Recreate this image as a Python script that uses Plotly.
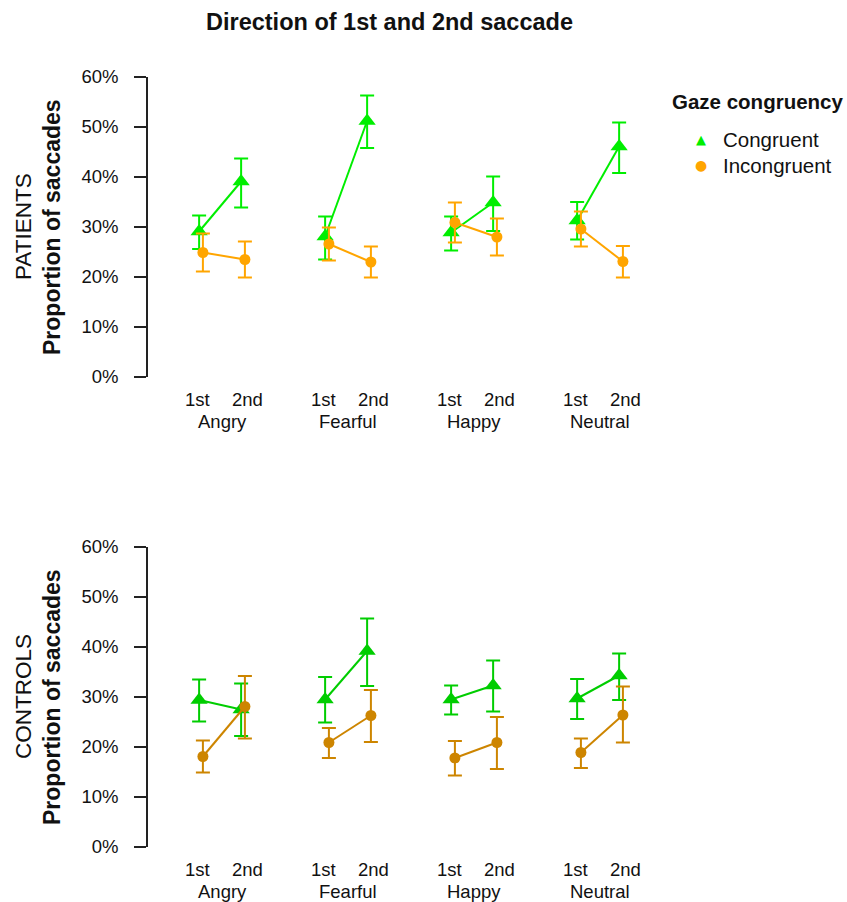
import plotly.graph_objects as go

# ---------------- data (percent) ----------------
emotions = ["Angry", "Fearful", "Happy", "Neutral"]
saccades = ["1st", "2nd"]

patients_cong = [29.1, 39.1, 28.1, 51.2, 28.9, 34.9, 31.3, 46.1]
patients_cong_lo = [25.6, 33.9, 23.5, 45.8, 25.3, 29.2, 27.5, 40.8]
patients_cong_hi = [32.3, 43.7, 32.1, 56.3, 32.1, 40.1, 35.0, 50.9]
patients_incong = [24.9, 23.5, 26.6, 23.0, 30.9, 28.0, 29.6, 23.1]
patients_incong_lo = [21.1, 19.9, 23.3, 19.9, 26.9, 24.3, 26.1, 19.9]
patients_incong_hi = [28.7, 27.1, 29.9, 26.1, 34.9, 31.7, 33.1, 26.2]

controls_cong = [29.4, 27.5, 29.5, 39.2, 29.5, 32.3, 29.7, 34.3]
controls_cong_lo = [25.1, 22.2, 24.9, 32.2, 26.5, 27.1, 25.6, 29.4]
controls_cong_hi = [33.5, 32.7, 34.0, 45.7, 32.3, 37.3, 33.6, 38.7]
controls_incong = [18.1, 28.1, 20.9, 26.3, 17.8, 20.9, 18.9, 26.4]
controls_incong_lo = [14.9, 21.7, 17.8, 21.0, 14.3, 15.6, 15.8, 20.9]
controls_incong_hi = [21.3, 34.2, 23.8, 31.4, 21.2, 26.0, 21.7, 32.1]

y_ticks = [0, 10, 20, 30, 40, 50, 60]
y_ticktext = [f"{v}%" for v in y_ticks]
legend_labels = ["Congruent", "Incongruent"]

W, H = 847, 902
FONT = "Liberation Sans, Arial, sans-serif"

GREEN1, ORANGE1 = "#00EE00", "#FFA500"
GREEN2, ORANGE2 = "#00CD00", "#CD8500"


def with_breaks(vals, offset):
    """positions/values split per emotion with None between groups"""
    xs, ys = [], []
    for i in range(len(emotions)):
        for j in range(len(saccades)):
            xs.append(3 * i + j + offset)
            ys.append(vals[2 * i + j])
        xs.append(None)
        ys.append(None)
    return xs, ys


def add_series(fig, vals, lo, hi, color, symbol, size, offset, xa, ya):
    xs, ys = with_breaks(vals, offset)
    _, his = with_breaks([h - v for h, v in zip(hi, vals)], offset)
    _, los = with_breaks([v - l for v, l in zip(vals, lo)], offset)
    fig.add_trace(go.Scatter(
        x=xs, y=ys, mode="lines+markers", xaxis=xa, yaxis=ya,
        line=dict(color=color, width=2),
        marker=dict(color=color, symbol=symbol, size=size, line=dict(width=0)),
        error_y=dict(type="data", symmetric=False, array=his, arrayminus=los,
                     color=color, thickness=2, width=7),
        showlegend=False, cliponaxis=False, connectgaps=False,
    ))


fig = go.Figure()
add_series(fig, patients_cong, patients_cong_lo, patients_cong_hi, GREEN1, "triangle-up", 15, -0.045, "x", "y")
add_series(fig, patients_incong, patients_incong_lo, patients_incong_hi, ORANGE1, "circle", 11, 0.045, "x", "y")
add_series(fig, controls_cong, controls_cong_lo, controls_cong_hi, GREEN2, "triangle-up", 15, -0.045, "x2", "y2")
add_series(fig, controls_incong, controls_incong_lo, controls_incong_hi, ORANGE2, "circle", 11, 0.045, "x2", "y2")

x_dom = [148 / W, 650 / W]
x_rng = [-1.262, 10.69]
top_dom = [(H - 377) / H, (H - 77) / H]
bot_dom = [(H - 847) / H, (H - 547) / H]

xcommon = dict(range=x_rng, domain=x_dom, showline=False, showgrid=False,
               zeroline=False, showticklabels=False, ticks="", automargin=False)
ycommon = dict(range=[0, 60], tickmode="array", tickvals=y_ticks, ticktext=y_ticktext,
               ticks="outside", ticklen=12, tickwidth=1.5, tickcolor="#222",
               showline=True, linecolor="#222", linewidth=1.5, showgrid=False,
               zeroline=False, tickfont=dict(family=FONT, size=18.5, color="#111"),
               ticklabelstandoff=12, automargin=False)

fig.update_layout(
    width=W, height=H, margin=dict(l=0, r=0, t=0, b=0, pad=0, autoexpand=False),
    plot_bgcolor="white", paper_bgcolor="white",
    font=dict(family=FONT, color="#111"),
    xaxis=dict(**xcommon, anchor="y"),
    yaxis=dict(**ycommon, domain=top_dom, anchor="x"),
    xaxis2=dict(**xcommon, anchor="y2"),
    yaxis2=dict(**ycommon, domain=bot_dom, anchor="x2"),
    showlegend=False,
)


def py(p):
    return (H - p) / H


ann = []
# title
ann.append(dict(text="<b>Direction of 1st and 2nd saccade</b>", x=389 / W, y=py(22),
                xref="paper", yref="paper", xanchor="center", yanchor="middle",
                showarrow=False, font=dict(size=23.5, family=FONT)))

panels = [("PATIENTS", "x", py(227), py(399), py(421)),
          ("CONTROLS", "x2", py(697), py(869), py(891))]
for name, xa, ymid, ytick, ygrp in panels:
    ann.append(dict(text=name, x=23 / W, y=ymid, xref="paper", yref="paper",
                    xanchor="center", yanchor="middle", textangle=-90, showarrow=False,
                    font=dict(size=22.5, family=FONT)))
    ann.append(dict(text="<b>Proportion of saccades</b>", x=52 / W, y=ymid, xref="paper",
                    yref="paper", xanchor="center", yanchor="middle", textangle=-90,
                    showarrow=False, font=dict(size=23, family=FONT)))
    for i, emo in enumerate(emotions):
        for j, s in enumerate(saccades):
            ann.append(dict(text=s, x=3 * i + j, y=ytick, xref=xa, yref="paper",
                            xanchor="center", yanchor="middle", showarrow=False,
                            xshift=-4 if j == 0 else 4,
                            font=dict(size=18.5, family=FONT)))
        ann.append(dict(text=emo, x=3 * i + 0.5, y=ygrp, xref=xa, yref="paper",
                        xanchor="center", yanchor="middle", showarrow=False,
                        font=dict(size=18.5, family=FONT)))

# legend drawn as text
ann.append(dict(text="<b>Gaze congruency</b>", x=670 / W, y=py(102), xref="paper", yref="paper",
                xanchor="left", yanchor="middle", showarrow=False, font=dict(size=20.5, family=FONT)))
legend_keys = [("▲", GREEN1, 13), ("●", ORANGE1, 14)]
for k, (lab, (glyph, col, gs)) in enumerate(zip(legend_labels, legend_keys)):
    yc = py(140 + 25 * k)
    ann.append(dict(text=glyph, x=701 / W, y=yc, xref="paper", yref="paper",
                    xanchor="center", yanchor="middle", showarrow=False,
                    font=dict(size=gs, color=col, family="DejaVu Sans")))
    ann.append(dict(text=lab, x=721 / W, y=yc, xref="paper", yref="paper",
                    xanchor="left", yanchor="middle", showarrow=False,
                    font=dict(size=20.5, family=FONT)))

fig.update_layout(annotations=ann)

fig.write_html("out.html")
